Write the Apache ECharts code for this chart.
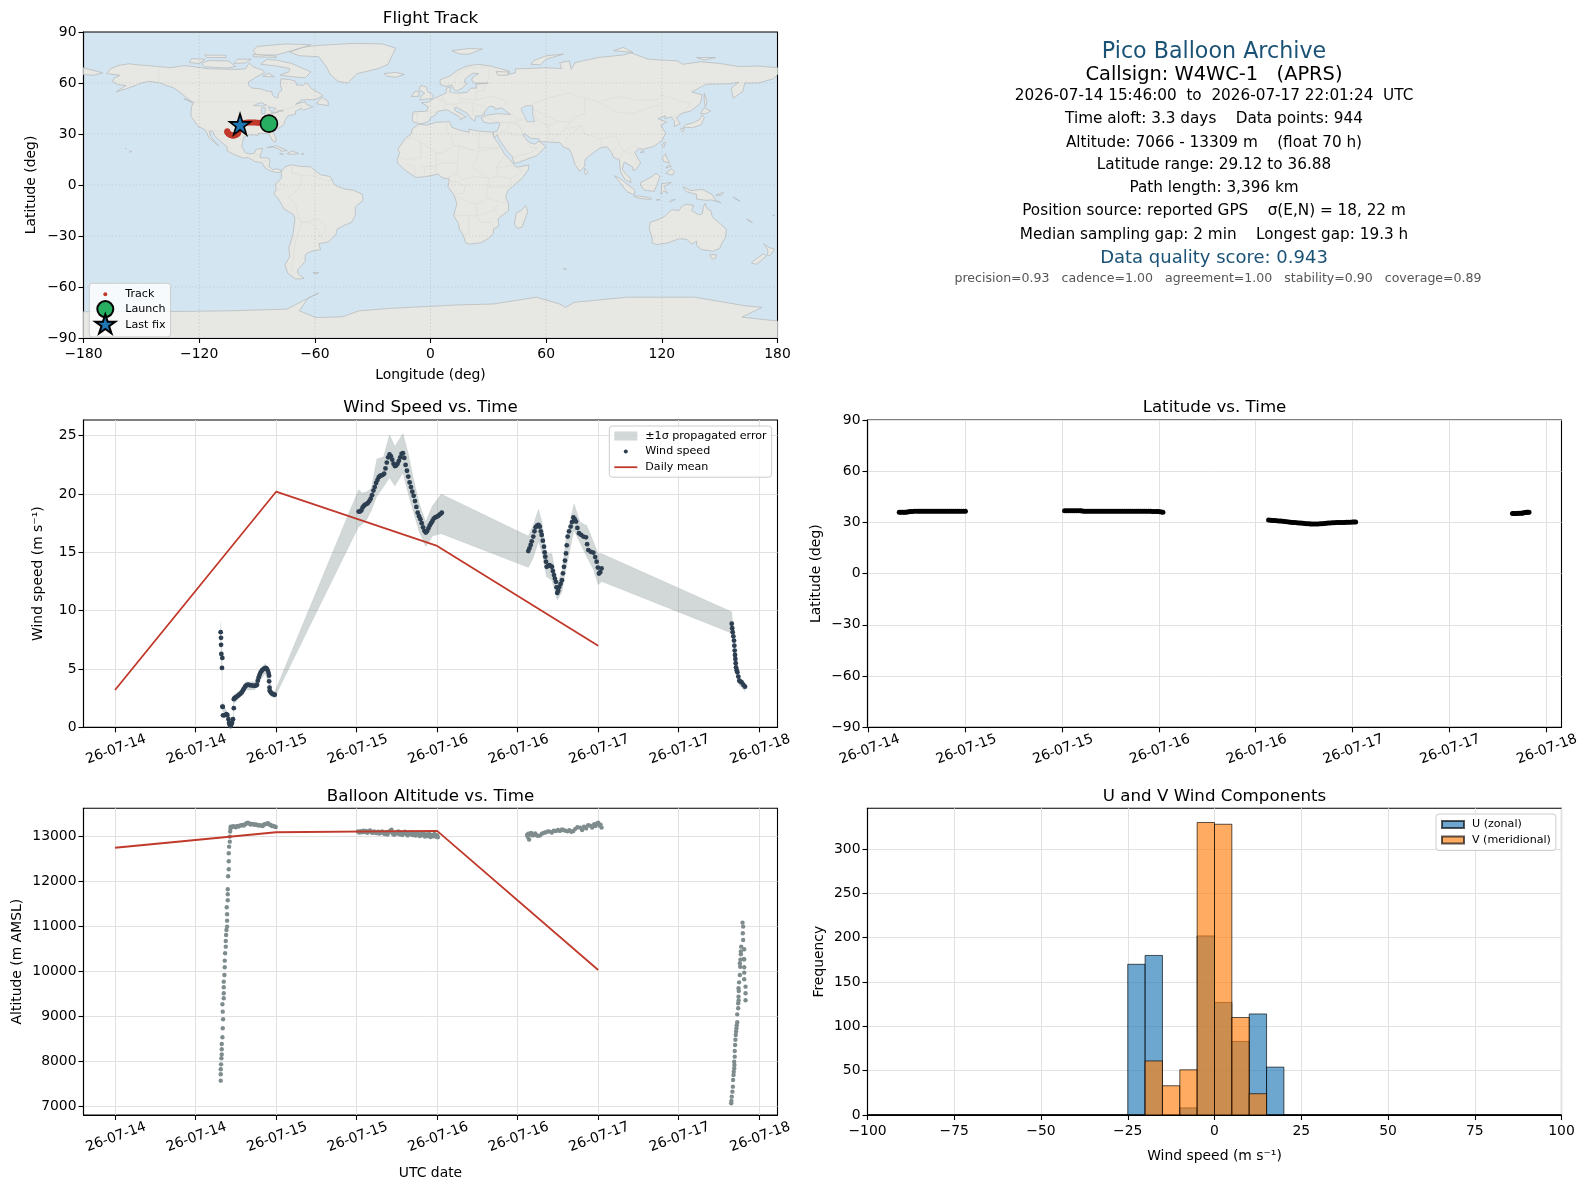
<!DOCTYPE html>
<html><head><meta charset="utf-8">
<style>html,body{margin:0;padding:0;background:#fff}#c{width:1587px;height:1189px}</style>
<script src="https://cdn.jsdelivr.net/npm/echarts@6/dist/echarts.min.js"></script>
</head><body><div id="c"></div>
<script>
// ---------- tick labels ----------
const hourTicksWide = [0,12,24,36,48,60,72,84,96];
const hourTicksLat = [12,24,36,48,60,72,84,96];
const hourTickLabels = {0:'26-07-14',12:'26-07-14',24:'26-07-15',36:'26-07-15',48:'26-07-16',60:'26-07-16',72:'26-07-17',84:'26-07-17',96:'26-07-18'};
const windTicks = [0,5,10,15,20,25];
const altTicks = [7000,8000,9000,10000,11000,12000,13000];
const histTicks = [0,50,100,150,200,250,300];
// ---------- wind speed: [hours since 26-07-14 00:00, m/s] ----------
const windPoints = [[15.74,8.16],[15.79,7.67],[15.8,7.07],[15.84,6.29],[15.94,5.09],[15.99,5.95],[16,1.78],[16.05,1.75],[16.09,1.03],[16.3,1.03],[16.6,1.12],[16.75,1.05],[16.9,0.69],[17,0.4],[17.08,0.26],[17.15,0.15],[17.23,0.11],[17.33,0.25],[17.43,0.4],[17.58,0.69],[17.7,1.64],[17.7,2.41],[17.8,2.5],[17.95,2.55],[18.08,2.61],[18.3,2.7],[18.5,2.79],[18.7,2.88],[18.88,2.99],[19.05,3.15],[19.17,3.28],[19.35,3.45],[19.47,3.56],[19.65,3.62],[19.82,3.65],[20.05,3.62],[20.3,3.59],[20.55,3.58],[20.8,3.56],[21,3.58],[21.16,3.65],[21.28,4],[21.41,4.28],[21.55,4.5],[21.7,4.71],[21.88,4.87],[22.06,4.97],[22.26,5.05],[22.46,5.09],[22.62,5],[22.76,4.86],[22.88,4.65],[22.96,4.43],[22.96,3.94],[23.02,3.4],[23.05,3.13],[23.2,3],[23.35,2.9],[23.6,2.83],[23.8,2.79],
[36.3,18.5],[36.5,18.5],[36.7,18.6],[36.9,18.85],[37.1,19],[37.3,19.1],[37.5,19.15],[37.7,19.25],[37.9,19.4],[38.1,19.6],[38.3,19.9],[38.5,20.3],[38.7,20.6],[38.9,20.95],[39.1,21.2],[39.3,21.45],[39.5,21.55],[39.7,21.6],[39.9,21.65],[40.1,21.75],[40.3,22.2],[40.5,22.7],[40.7,23.15],[40.9,23.4],[41.1,23.25],[41.3,22.95],[41.5,22.6],[41.7,22.4],[41.9,22.45],[42.1,22.6],[42.3,22.85],[42.5,23.15],[42.7,23.45],[42.9,23.5],[43.1,23.1],[43.3,22.5],[43.5,22],[43.7,21.5],[43.9,21],[44.1,20.6],[44.3,20.2],[44.5,19.85],[44.7,19.4],[44.9,18.9],[45.1,18.4],[45.3,18.1],[45.5,17.85],[45.7,17.5],[45.9,17.15],[46.1,16.85],[46.3,16.7],[46.5,16.8],[46.7,17.05],[46.9,17.3],[47.1,17.5],[47.3,17.7],[47.5,17.9],[47.7,18],[47.9,18.05],[48.1,18.1],[48.3,18.2],[48.5,18.3],[48.7,18.4],
[61.59,15.11],[61.75,15.35],[61.94,15.63],[62.1,15.95],[62.33,16.35],[62.5,16.8],[62.68,17.16],[62.9,17.3],[63.1,17.36],[63.3,17.2],[63.45,16.8],[63.58,16.49],[63.75,16],[63.92,15.49],[64.02,15],[64.12,14.63],[64.22,14.2],[64.32,13.76],[64.52,13.85],[64.72,13.91],[64.9,13.85],[65.1,13.76],[65.25,13.4],[65.41,13.05],[65.55,12.75],[65.7,12.47],[65.8,12],[65.9,11.52],[66.05,11.7],[66.2,12.04],[66.4,12.3],[66.6,12.61],[66.75,13.2],[66.9,13.76],[67.05,14.3],[67.2,14.91],[67.32,15.6],[67.45,16.35],[67.65,16.8],[67.9,17.21],[68.1,17.6],[68.3,17.99],[68.5,17.85],[68.7,17.64],[68.9,17.1],[69.14,16.64],[69.45,16.5],[69.79,16.35],[70.18,16.29],[70.35,15.7],[70.53,15.2],[70.9,15.05],[71.28,14.97],[71.55,14.6],[71.77,14.2],[71.95,13.7],[72.12,13.19],[72.3,13.3],[72.5,13.62],
[91.9,8.88],[91.97,8.5],[92.04,8.16],[92.14,7.8],[92.24,7.44],[92.29,7],[92.34,6.58],[92.39,6.2],[92.44,5.86],[92.49,5.5],[92.54,5.14],[92.64,4.9],[92.74,4.71],[92.88,4.35],[93.03,3.99],[93.2,3.92],[93.38,3.85],[93.63,3.65],[93.88,3.48]];
// ---------- propagated error band: hours, low, high ----------
const bandHours = [15.74,15.8,15.95,16,16.6,17.2,17.6,17.7,18.5,19.5,20.8,21.4,22.4,22.96,23.3,23.8,36.3,36.8,37.5,38.2,39,40,40.9,41.7,42.9,43.7,44.4,45.3,46.3,46.7,47.3,48.6,61.59,62.3,63.1,63.6,64.3,65.1,65.9,66.6,67.2,68.4,69.3,70.3,71.3,72,72.5,91.9,92.2,92.5,93,93.9];
const bandLow = [7.4,6.4,4.4,1.4,0.9,0,0.4,2,2.5,3.2,3.2,3.9,4.6,3.6,2.6,2.55,17.2,17.4,17.8,18.6,19.8,20.6,21.4,20.7,21.8,20,18.6,16.8,15.5,15.8,16.4,16.6,13.7,14.5,15.9,15,12.9,12.6,10.9,11.6,13.6,16.9,15.8,14.6,13.5,12.2,12.5,8.07,6.9,4.8,3.6,3.1];
const bandHigh = [9,7.7,5.8,2.2,1.4,0.4,1,2.8,3.1,3.9,3.9,4.7,5.5,4.6,3.2,3.05,20.4,20.1,20.2,20.5,23,23.2,25.1,24.1,25.2,23.5,21.5,19.3,17.6,18.2,19,20,16.4,17.3,18.7,17.7,14.9,14.9,12.3,13.4,16.2,19.2,17.6,17.3,15.9,14.9,14.9,9.9,7.9,5.5,4.4,3.7];
// ---------- daily means ----------
const dailyHours = [0,24,48,72];
const dailyWind = [3.2,20.2,15.55,7.0];
const dailyAltitude = [12745,13090,13120,10030];
// ---------- latitude: [hours, deg] ----------
const latPoints = [[15.8,35.9],[16,35.9],[16.2,35.9],[16.4,36],[16.6,36],[16.8,36.05],[17,36.2],[17.2,36.35],[17.4,36.45],[17.7,36.5],[18,36.5],[18.25,36.5],[18.5,36.5],[18.75,36.5],[19,36.5],[19.25,36.5],[19.5,36.5],[19.75,36.5],[20,36.5],[20.25,36.5],[20.5,36.5],[20.75,36.5],[21,36.5],[21.25,36.5],[21.5,36.5],[21.75,36.5],[22,36.5],[22.25,36.5],[22.5,36.5],[22.75,36.5],[23,36.5],[23.25,36.5],[23.5,36.5],[23.75,36.5],[24,36.5],
[36.3,36.88],[36.55,36.88],[36.8,36.88],[37.05,36.88],[37.3,36.85],[37.55,36.85],[37.8,36.85],[38.05,36.85],[38.3,36.8],[38.5,36.7],[38.7,36.6],[38.95,36.55],[39.2,36.5],[39.45,36.5],[39.7,36.5],[39.95,36.5],[40.2,36.5],[40.45,36.5],[40.7,36.5],[40.95,36.5],[41.2,36.5],[41.45,36.5],[41.7,36.5],[41.95,36.5],[42.2,36.5],[42.45,36.5],[42.7,36.5],[42.95,36.5],[43.2,36.5],[43.45,36.5],[43.7,36.5],[43.95,36.5],[44.2,36.5],[44.45,36.5],[44.7,36.5],[44.95,36.5],[45.2,36.5],[45.45,36.5],[45.7,36.5],[45.95,36.5],[46.2,36.5],[46.45,36.5],[46.7,36.5],[46.95,36.5],[47.2,36.45],[47.45,36.45],[47.7,36.45],[47.9,36.4],[48.1,36.3],[48.3,36.1],[48.5,35.9],
[61.6,31.4],[61.85,31.3],[62.1,31.2],[62.35,31.1],[62.6,31],[62.85,30.9],[63.1,30.8],[63.35,30.65],[63.6,30.5],[63.85,30.35],[64.1,30.2],[64.35,30.1],[64.6,30],[64.85,29.9],[65.1,29.8],[65.35,29.7],[65.6,29.6],[65.85,29.5],[66.1,29.4],[66.35,29.3],[66.6,29.2],[66.8,29.15],[67,29.12],[67.25,29.12],[67.5,29.12],[67.75,29.15],[68,29.2],[68.25,29.3],[68.5,29.4],[68.75,29.5],[69,29.6],[69.25,29.7],[69.5,29.8],[69.75,29.85],[70,29.9],[70.25,29.95],[70.5,30],[70.75,30],[71,30],[71.25,30.05],[71.5,30.1],[71.75,30.15],[72,30.2],[72.2,30.2],[72.4,30.2],
[91.85,35.3],[92.05,35.3],[92.2,35.3],[92.4,35.3],[92.6,35.35],[92.8,35.35],[93,35.4],[93.15,35.5],[93.3,35.6],[93.45,35.75],[93.6,35.9],[93.75,35.9],[93.9,35.95]];
// ---------- altitude: [hours, m] ----------
const altitudePoints = [[15.75,7570],[15.75,7711],[15.75,7822],[15.8,7933],[15.85,8067],[15.9,8155],[15.9,8267],[15.9,8385],[16,8533],[16.05,8733],[16.1,8933],[16.05,9104],[16,9267],[16.2,9400],[16.2,9511],[16.2,9644],[16.2,9770],[16.3,9918],[16.35,10089],[16.35,10237],[16.4,10400],[16.5,10548],[16.5,10674],[16.55,10807],[16.6,10918],[16.7,10993],[16.7,11126],[16.7,11267],[16.65,11422],[16.8,11578],[16.8,11711],[16.8,11822],[16.85,12111],[16.95,12267],[16.95,12444],[16.95,12622],[17,12770],[17.1,12881],[17.1,12993],[17.15,13104],[17.2,13170],[17.24,13215],
[17.4,13205],[17.6,13225],[17.8,13215],[18,13200],[18.2,13230],[18.4,13215],[18.6,13237],[18.8,13245],[19,13252],[19.2,13240],[19.4,13270],[19.6,13290],[19.8,13304],[20,13285],[20.2,13262],[20.4,13274],[20.6,13268],[20.8,13255],[21,13262],[21.2,13252],[21.4,13240],[21.6,13248],[21.8,13238],[22,13230],[22.2,13262],[22.4,13270],[22.6,13280],[22.8,13289],[23,13262],[23.2,13252],[23.4,13225],[23.6,13230],[23.8,13215],[23.95,13205],
[36.2,13105],[36.4,13085],[36.6,13115],[36.8,13090],[37,13125],[37.2,13095],[37.4,13120],[37.6,13080],[37.8,13110],[38,13130],[38.2,13090],[38.4,13075],[38.6,13105],[38.8,13085],[39,13070],[39.2,13100],[39.4,13060],[39.6,13090],[39.8,13105],[40,13065],[40.2,13050],[40.4,13095],[40.6,13040],[40.8,13085],[41,13125],[41.2,13145],[41.4,13055],[41.6,13035],[41.8,13085],[42,13060],[42.2,13105],[42.4,13045],[42.6,13090],[42.8,13030],[43,13070],[43.2,13100],[43.4,13050],[43.6,13020],[43.8,13080],[44,13045],[44.2,13090],[44.4,13025],[44.6,13060],[44.8,13015],[45,13080],[45.2,13035],[45.4,13005],[45.6,13065],[45.8,13020],[46,13060],[46.2,12995],[46.4,13040],[46.6,13005],[46.8,13055],[47,12985],[47.2,13030],[47.4,13000],[47.6,13050],[47.8,12995],[48,13025],[48.1,12980],
[61.4,13030],[61.5,12990],[61.6,13060],[61.7,12930],[61.8,13044],[62,13075],[62.2,13020],[62.4,13030],[62.6,13065],[62.8,13025],[63,13010],[63.3,13015],[63.6,13055],[63.9,13075],[64.2,13090],[64.5,13110],[64.8,13104],[65.1,13085],[65.4,13125],[65.7,13115],[66,13140],[66.3,13120],[66.6,13150],[66.8,13141],[67.1,13125],[67.4,13110],[67.7,13135],[68,13100],[68.3,13119],[68.6,13165],[68.9,13200],[69.3,13193],[69.6,13140],[69.9,13215],[70.2,13175],[70.5,13245],[70.8,13237],[71.1,13195],[71.4,13270],[71.6,13230],[71.8,13280],[72,13300],[72.2,13240],[72.35,13260],[72.5,13193],
[91.85,7118],[91.82,7066],[91.9,7215],[92,7326],[92.07,7437],[92.1,7585],[92.17,7696],[92.2,7770],[92.27,7993],[92.27,7844],[92.3,7920],[92.35,8104],[92.35,8230],[92.4,8363],[92.45,8480],[92.5,8585],[92.55,8660],[92.6,8733],[92.65,8800],[92.72,8867],[92.72,9044],[92.86,9178],[92.86,9289],[92.91,9437],[92.93,9350],[93,9755],[92.95,9560],[92.91,9622],[93.11,9918],[93.11,10178],[93.16,10100],[93.2,10260],[93.26,10378],[93.26,10440],[93.31,10548],[93.51,11081],[93.6,10993],[93.55,10844],[93.6,10696],[93.76,10489],[93.7,10267],[93.75,10267],[93.76,10089],[93.76,9970],[93.76,9822],[93.96,9659],[93.96,9511],[93.96,9356]];
// ---------- histogram ----------
const binLeft = [-100,-95,-90,-85,-80,-75,-70,-65,-60,-55,-50,-45,-40,-35,-30,-25,-20,-15,-10,-5,0,5,10,15,20,25,30,35,40,45,50,55,60,65,70,75,80,85,90,95];
const binWidth = 5;
const uCounts = [0,0,0,0,0,0,0,0,0,0,0,0,0,0,0,170,180,0,8,202,127,83,114,54,0,0,0,0,0,0,0,0,0,0,0,0,0,0,0,0];
const vCounts = [0,0,0,0,0,0,0,0,0,0,0,0,0,0,0,0,61,33,51,330,328,110,24,0,0,0,0,0,0,0,0,0,0,0,0,0,0,0,0,0];
// ---------- track ----------
const launchPoint = [-83.8,36.1];
const lastFixPoint = [-98.8,35.7];
const trackPoints = [[-83.8,36.1],[-84.8,36.3],[-85.8,36.4],[-86.8,36.5],[-87.8,36.5],[-88.8,36.6],[-89.8,36.6],[-90.8,36.7],[-91.8,36.8],[-92.8,36.8],[-93.8,36.8],[-94.8,36.7],[-95.8,36.6],[-96.8,36.5],[-97.8,36.4],[-98.8,36.2],[-99.6,36],[-99.7,31],[-99.9,30.3],[-100.4,29.8],[-100.9,29.5],[-101.4,29.3],[-101.9,29.15],[-102.4,29.12],[-102.9,29.15],[-103.4,29.3],[-103.9,29.5],[-104.4,29.9],[-104.8,30.3],[-105.2,30.7],[-105.4,31.2],[-105.4,31.6]];
// ---------- map outlines [lon,lat] ----------
const landNorthAmerica = [[-168,65.6],[-166,68.3],[-162,70.3],[-156.5,71.3],[-150,70.5],[-141,69.7],[-135,69],[-128,70.2],[-124,69.8],[-115,68.3],[-108,68.2],[-101,68],[-96,68.3],[-94,71.8],[-92,69.6],[-87,67.5],[-86,66.2],[-90,63.8],[-94.5,60.5],[-94.5,58.8],[-92.5,57],[-88,56.5],[-85,55.3],[-82.3,55],[-82,52.9],[-80,51.3],[-79,51.5],[-79,54],[-77,56],[-78,58.8],[-77.5,62.5],[-73,62],[-70,61],[-69.5,58.8],[-66,58.7],[-64.5,60.3],[-61.5,56.5],[-57.5,54],[-55.8,52.5],[-60,50.2],[-66.5,50.2],[-70,47.5],[-65,49],[-64.5,47.5],[-61,46],[-66,44],[-67,45],[-70,43.5],[-70,41.7],[-74,40.6],[-75.5,38],[-76,35.5],[-78,33.9],[-81,32],[-81.3,30],[-80,27],[-80.3,25.2],[-81.8,26],[-82.8,28],[-84,30],[-86,30.4],[-89.5,30.3],[-89.5,29],[-91.5,29.5],[-94,29.5],[-97,28],[-97.5,25],[-97.8,22.5],[-96,19],[-94,18.2],[-91.5,18.7],[-90.5,21],[-87,21.5],[-88,18.5],[-88.5,16],[-84,15.9],[-83.3,14.5],[-83.7,11],[-82,9],[-79.5,9.5],[-77.3,8.7],[-78,7.5],[-80,7.3],[-83,8.2],[-85.8,10],[-87.5,13],[-91.5,14],[-94.5,16.2],[-97,15.8],[-102,18],[-105.5,20],[-105.5,22.5],[-108.5,25.2],[-112,29],[-113,31.3],[-114.8,31.7],[-114,28.5],[-111,24.5],[-110,23],[-112,25],[-115,28],[-116,30.5],[-117.2,32.6],[-120.5,34.5],[-122.5,37.7],[-124.3,40.3],[-124,46],[-122.8,48.5],[-125,50],[-130,54.5],[-133,57],[-137,58.5],[-140,60],[-146,61],[-150,60],[-152,59],[-158,56.5],[-163,54.8],[-158,58.5],[-162,59],[-165,61],[-164,63],[-161,64.5]];
const landGreenland = [[-73,78.2],[-66,81],[-60,82],[-40,83.3],[-25,83],[-18,80.5],[-20,76],[-22,71],[-27,68.5],[-38,65.5],[-43,60],[-48,61],[-52,65],[-54,69.5],[-58,75.5],[-68,76]];
const landSouthAmerica = [[-77,8.5],[-75.5,10.7],[-72,12],[-68,11],[-62,10.7],[-60,8.5],[-57,6],[-52,5],[-50,0.5],[-48,-1],[-44,-2.5],[-40,-3],[-35.3,-5.5],[-35,-9],[-39,-13],[-39,-18],[-41,-22],[-45,-23.8],[-48.5,-26],[-49,-29],[-53,-33.5],[-58,-34.5],[-57,-38],[-62,-39],[-65,-41],[-65,-45],[-69,-50],[-68.5,-52.5],[-65.5,-55],[-70,-55.3],[-74,-52],[-75.5,-47],[-73,-42],[-73.5,-37],[-71.5,-30],[-70.3,-20],[-71,-17.5],[-76,-14],[-79,-8],[-81.3,-5],[-80,-2.5],[-80.5,0.5],[-78.5,2.5],[-77.3,4],[-77.5,7]];
const landAfrica = [[-6,35.8],[-2,35.2],[3,36.9],[10,37.3],[11,34],[15,32.3],[20,31],[20,32.8],[25,31.7],[32,31.2],[32.5,30],[33,28],[35.5,24],[37,21],[38.5,18],[41,15],[43.2,12],[45,10.5],[51,11.8],[50.8,9],[47.5,4],[43,-0.5],[40,-3.5],[39,-7],[40.5,-11],[40.5,-15],[36.5,-18.5],[35,-20],[35.5,-24],[32.8,-26],[32.5,-28.7],[30,-31.5],[26,-34],[20,-34.8],[18.3,-34],[17,-29.5],[15,-26],[14.5,-22.5],[12,-18],[13.7,-11],[12.2,-6],[9,-1],[9.8,3.5],[6,4.3],[4,6.4],[-2,5],[-7.5,4.4],[-13,8.5],[-16.8,12.5],[-17.3,14.7],[-16,19],[-17,21],[-13,27.5],[-10,30],[-9.5,33]];
const landEurasia = [[-9,37],[-9.5,38.7],[-9,43],[-2,43.4],[-1.2,46],[-4.7,48.4],[-1.5,48.7],[2,51],[4,52],[8,54],[8.3,57],[10.5,57.7],[10,54.5],[14,54],[19,54.5],[21,57],[24,57],[23.5,59.3],[30,60],[23,60],[21.5,61],[21.5,63],[25,65.5],[22,65.8],[18,62.5],[17.5,60.5],[19,59.8],[16.5,57],[14,55.5],[12.8,55.5],[11,58.8],[8,58],[5,59],[5,62],[10,64],[14,67.5],[19,70],[25,71],[31,70],[41,67],[40,64.7],[35,64.5],[34,66.7],[41,66.5],[40,65],[44,66],[44,68.3],[54,68.7],[60,69],[68,68.5],[67,72],[72,73],[73,68],[75,72],[81,73.5],[87,75],[100,76.5],[104,77.7],[113,74],[128,73],[131,71],[140,72.5],[150,71.5],[160,69.7],[170,70],[180,69],[180,65],[178,62.5],[170,60],[163,60],[162,55],[157,51],[156,57],[160,60.5],[155,59.5],[143,59.3],[135.5,54.7],[141,53],[140,48],[135,43.5],[130.7,42.3],[127.5,39.5],[129.5,36],[126.5,34.5],[126.5,37.5],[125,40],[121.5,39],[122,40.7],[118,39],[122.5,37],[119.5,35],[122,30.5],[120,26],[116,22.8],[110.5,21],[108,21.5],[106,19],[109,13],[106.5,9],[105,8.7],[105,10.5],[100.5,13.5],[99.5,9],[103.5,4],[104,1.4],[101,3],[98.5,8],[98,15],[95,16],[94,19],[91.5,22.5],[88,21.7],[85,19.5],[80.2,15],[80,11],[77.5,8],[75,12],[73,19],[72,21],[69,22.3],[67,25],[61.5,25.2],[57,25.5],[56.4,27],[52,27.5],[48.8,30.2],[48,29.5],[50,26.5],[51.5,25],[54,24],[56.3,25.8],[59.8,22.5],[55.5,17.5],[52,16],[45,13],[43.2,13],[42.5,16.5],[39,21],[35,28],[34.8,29.5],[33,28],[32.5,30],[32.5,31.2],[34.3,31.4],[35.8,35],[36,36.8],[30.5,36.3],[27.5,37],[26.3,39.5],[29,41],[35,42],[41.5,41.5],[38,44.5],[37,45.4],[33.5,44.5],[33,46],[30.5,46.3],[28,43],[28,41.5],[26,40.7],[23.5,40.5],[23,37.5],[20.5,39.5],[19.3,42],[14,45.5],[12.3,45.3],[13,43.5],[16,41.8],[18.5,40],[16.5,39.5],[16,38],[15,40.2],[10.5,43],[8.5,44.3],[3.5,43.3],[3,41.5],[0,39.5],[-0.7,37.7],[-2,36.8],[-5.5,36]];
const landChukotka = [[-180,69],[-170,66],[-175,64.5],[-180,65]];
const landAustralia = [[114,-22],[113.5,-26],[115,-31],[115,-34.3],[118,-35],[123.5,-33.9],[129,-31.6],[133,-32],[135.5,-34.8],[138,-33],[138,-35.5],[140.5,-38],[144,-38.5],[146.5,-39],[150,-37.3],[151.5,-33.5],[153,-31],[153.5,-26],[150.5,-23],[146.3,-19],[145.3,-15],[143.5,-14],[142.5,-10.8],[141.5,-13],[141,-17],[139,-17.5],[135.5,-15],[136.5,-12],[132.5,-11.3],[130,-13],[129,-15],[125,-14.5],[122,-18],[119,-20]];
const landAntarctica = [[-180,-90],[-180,-74.5],[-140,-74.5],[-104,-74],[-74.5,-73],[-71,-71],[-66,-68],[-58,-63.5],[-63.5,-66.5],[-68,-74],[-59.5,-78],[-45.7,-77.5],[-37,-74],[-20,-72.5],[15,-70.5],[32.6,-70],[55,-66],[67,-70],[70,-72],[74.6,-69],[102,-66],[137,-66],[163,-71],[172,-72],[161.5,-77.7],[180,-80],[180,-90]];
const landIslands = [
[[-80,73.5],[-72,71.5],[-67,69],[-62,66.5],[-65,63],[-72,63.7],[-78,64.7],[-73.5,66.5],[-73,68.5],[-80,70],[-88,71],[-85,73.8]],
[[-117,69.5],[-105,68.8],[-101,69.8],[-105,73],[-115,73.2],[-119,71.5]],
[[-125,72],[-120,71.5],[-117,74],[-124,74.3]],
[[-90,76.5],[-80,76.5],[-72,79],[-62,82.5],[-75,83],[-90,81.5],[-92,79]],
[[-92,75.5],[-80,75],[-80,75.8],[-92,76.8]],
[[-116,75],[-106,75],[-106,76.3],[-117,76.4]],
[[-102,71.5],[-96,71.8],[-93,74],[-100,74]],
[[-87,64],[-81,63.5],[-84,65.8]],
[[-59,47.7],[-53,46.7],[-53,49],[-56,51.5],[-58,50]],
[[-128,50.8],[-123.5,48.4],[-125,49.6]],
[[-84.9,21.9],[-80,23.1],[-74.3,20.2],[-77.7,19.9],[-78,20.8],[-82,22.5]],
[[-74.4,18.4],[-72,20],[-68.4,18.6],[-71,18]],
[[-78.3,18.3],[-76.3,18.1],[-77,18.5]],
[[-67.2,18],[-65.6,18.2],[-66.5,18.5]],
[[-156,19.2],[-155,19.7],[-155.8,20.2]],
[[-158.2,21.3],[-157.7,21.3],[-158,21.7]],
[[-5.5,50],[1,51],[1.5,52.8],[-1.5,55],[-2,57.5],[-5,58.6],[-6,56],[-3,54],[-5,52]],
[[-10,52],[-6,52.2],[-6,55],[-8,55.2]],
[[-24,65.5],[-18,66.3],[-13.5,65],[-18,63.4],[-22.5,64]],
[[11,79],[20,80.3],[27,80],[20,77],[15,77]],
[[52,71],[57,70.7],[60,74],[69,77],[60,76],[54,73.5]],
[[95,79],[105,78],[100,81]],
[[138,75],[148,75],[142,73.5]],
[[142,54],[143.5,49],[142.5,46],[142,50]],
[[131,34],[136,33.7],[140.5,35.5],[142,39.5],[141,41.3],[139.5,38.5],[136,36.5],[132.5,35.5]],
[[140,42],[143,42],[145.3,43.5],[142,45.5]],
[[130,33.5],[131.7,33],[131,31.2],[130,32]],
[[120.2,23],[121,22],[122,25],[121,25]],
[[108.7,19],[111,19.5],[110,20.2]],
[[79.8,8],[80,9.7],[81.8,7.5],[80.5,6]],
[[120.3,16],[122,18.5],[122.3,16.5],[124,13],[121,13.8]],
[[122,7],[125.5,5.7],[126.5,8],[125,9.5]],
[[122,10],[125,11],[124,12]],
[[109,1.5],[111.5,2.8],[115,5],[117,7],[119,5],[117.8,1],[116,-3.8],[111,-3],[109.2,-0.5]],
[[95.3,5.5],[98,4],[103.7,-1],[106,-3],[105.8,-5.8],[102,-4],[98.5,1]],
[[105.3,-6.5],[108.5,-6.5],[114.5,-7.7],[114.3,-8.7],[108,-7.8]],
[[119.5,-5.5],[120,0.8],[125,1.5],[121,-1],[123,-5],[121,-3.5]],
[[131,-1],[135,-3.3],[141,-2.6],[146,-5.5],[148,-9],[150.7,-10.5],[146,-8.8],[143,-9],[138,-8.3],[138,-5.5],[133,-4],[132,-2.8]],
[[124,-10],[127,-8.5],[125,-8.9]],
[[117,-8.8],[119,-8.4],[119,-8.9]],
[[148,-6],[152,-4.3],[151,-6]],
[[157,-7],[160.5,-9.5],[158,-8]],
[[164,-20],[167,-22],[165.5,-21.5]],
[[177.5,-18],[178.5,-17.5],[178,-18.2]],
[[144.8,-41],[148.3,-41],[147.8,-43.3],[146,-43.5]],
[[172.8,-34.5],[175.5,-36.7],[178.5,-37.7],[176,-41.5],[174.8,-41.3],[175,-39],[174.7,-37.5]],
[[172.7,-40.5],[174.2,-41.7],[171,-45],[169,-46.6],[166.5,-46],[168,-44.2]],
[[49.3,-12],[50.5,-15.5],[47.5,-24.8],[45,-25.5],[43.5,-23],[44.5,-16.2],[47,-15.2]],
[[69,-49],[70.5,-49.5],[69.5,-49.8]],
[[-61,-51.5],[-58,-51.5],[-59,-52.3]]
];
const inlandWater = [
[[47,45],[50,46.8],[53,46.5],[53,42],[54,37.2],[50,37.3],[49,40],[47.5,43]],
[[-92,46.7],[-88,48.5],[-85,47],[-87,46.5]],
[[-87.8,42],[-86,42],[-85.5,45.5],[-87.5,45.5]],
[[-84,46],[-80,45],[-82,43],[-83.5,44]],
[[-83,41.7],[-79,42.8],[-79.5,43],[-83,42.3]],
[[-79.5,43.3],[-76.3,43.5],[-76.5,44],[-79,43.8]]
];
const countryBorders = [
[[-141,69.7],[-141,60]],[[-123,49],[-95,49],[-88,48.3],[-83,46],[-82.5,42.5],[-79,43],[-75,45],[-70,46],[-67,47],[-67,45]],
[[-117,32.5],[-108,31.5],[-106,31.7],[-101,29.5],[-97.5,26]],[[-92,14.5],[-91,17.8],[-89,17.8],[-88.5,16]],[[-87.5,13],[-84,15]],[[-83.7,11],[-85.8,11]],
[[-72,12],[-72,7],[-67,6],[-67,1],[-70,-4],[-74,-7],[-70,-11],[-69,-16],[-67,-22],[-58,-20],[-55,-24],[-54,-26],[-57.5,-30],[-53,-33.5]],
[[-67,6],[-60,5],[-60,8.5]],[[-60,5],[-52,2],[-52,5]],[[-80,-3.5],[-75,-1],[-78.5,1.5]],[[-70.5,-18],[-67,-22],[-70,-33],[-72,-50],[-68.5,-52.5]],[[-67,-22],[-62,-22],[-58,-27],[-57.5,-30]],
[[-9,42],[-7,42],[-7,37]],[[-2,43.4],[3,42.5]],[[2,51],[8,49],[7.5,47.5],[7,44]],[[6,52],[7,49]],[[8,54.9],[14,54]],[[14,54],[15,51],[24,50],[23,54.3]],[[15,51],[17,48.7],[13,47.5],[7.5,47.5]],[[17,48.7],[22.5,48.2],[28,45.5],[29.5,45.2]],[[24,50],[30,52],[32,52],[40,49.5],[38,47]],[[23,54.3],[28,56],[28,60]],[[13,47.5],[14,45.5]],[[22,48],[22,41],[20,40]],[[28,42],[22,44]],
[[31,70],[30,62],[28,60]],[[14,65],[19,69],[25,69],[29,69.5]],[[12.5,60],[13,64],[14,65]],
[[26,40.7],[36,36.8],[44,37],[44.5,39.5],[41.5,41.5]],[[36,36.8],[42,37],[39,32],[35,29.5]],[[42,37],[46,35],[48,30]],[[44.5,39.5],[48,38.5],[44,37],[46,35],[48,30]],
[[48,29],[45,29],[37,32]],[[48,29],[52,22],[55.5,22],[52,19]],[[52,19],[45,17],[43,16.5]],[[61,25],[61.5,30],[61,35],[66,37.5],[73,37]],[[61.5,30],[66,29.5],[70,33],[73,37]],[[66,29.5],[62,25.2]],[[70,33],[74,34],[78,35]],[[70,25],[71,28],[74,31],[78,35]],[[78,35],[80,30],[88,27],[96,29],[98,24],[100,20],[105,23],[108,21.5]],[[88,27],[89,22]],[[94,19],[98,24]],[[98,15],[100,20],[105,18],[107,15],[106,11]],[[100,6],[102,6]],
[[50,46],[58,42],[66,37.5]],[[54,42],[56,37.5],[61,35]],[[50,46],[60,51],[72,54],[80,51],[87,49]],[[80,51],[80,42],[74,39.5],[73,37]],[[87,49],[98,52],[107,50],[117,50],[120,53],[128,50],[135,48],[131,43]],[[87,49],[96,43],[105,42],[112,45],[119,47],[117,50]],[[124.5,40],[130.5,42.5]],[[126.5,38],[128.5,38.5]],
[[25,31.7],[25,20],[37,22]],[[25,22],[36,22]],[[25,20],[24,15],[22,12],[23,9],[30,4],[35,5],[34,10],[37,15],[38.5,18]],[[34,10],[43,11.5]],[[35,5],[42,4],[47.5,8],[43.5,11]],[[41,-1],[42,4]],[[34,-1],[41,-1]],[[34,-1],[30,-1],[29,-5],[30,-8],[40,-11]],[[30,4],[30,-1]],[[12.2,-6],[22,-11],[24,-11],[30,-8]],[[24,-11],[24,-18],[12,-18]],[[24,-18],[30,-16],[33,-15],[36.5,-18.5]],[[33,-15],[35,-11]],[[20,-18],[20,-28.5],[17,-29]],[[24,-18],[26,-22],[32,-22],[32.8,-26]],
[[9,37],[8,33],[10,30],[12,23],[15,23],[24,20]],[[12,23],[6,19],[3,19],[-5,25],[-8.7,27.5],[-13,27.5]],[[-5,25],[-5,16],[-12,15],[-16,16]],[[3,19],[3,12],[8,13],[14,13],[15,23]],[[14,13],[14,7],[9,4.5]],[[14,7],[16,3],[18,3.5],[23,5],[30,4]],[[3,12],[3,6.5]],[[-5,11],[3,11]],[[-8,4.5],[-8,11],[-13,12.5]],[[-3,5],[-3,11]],[[15,23],[23,20]],[[9,2],[14,2],[18,-1],[17,-5],[12,-5]]
];
const mapLonTicks = [-120,-60,0,60,120];
const mapLatTicks = [-60,-30,0,30,60];

// ---------- styles ----------
const FONT = '"DejaVu Sans"';
const RED = '#c0392b', NAVY = '#2c3e50', GREY = '#7f8c8d', TITLEBLUE = '#1a5276';
const grids = [
  {left:83.5,top:32,width:694,height:306},
  {left:83.5,top:420,width:694,height:307.3},
  {left:867.5,top:420,width:694,height:307.3},
  {left:83.5,top:808.3,width:694,height:306.7},
  {left:867.5,top:808.3,width:694,height:306.7}
].map(g=>Object.assign({show:true,borderColor:'#000',borderWidth:1.1,backgroundColor:'transparent'},g));
grids[0].backgroundColor = '#d4e5f2';

const minus = v => String(v).replace('-','\u2212');
const gridLine = {show:true,lineStyle:{color:'#e1e1e1',width:1}};
const tick = {show:true,length:5,lineStyle:{color:'#000',width:1.1}};
const axLine = {show:true,onZero:false,lineStyle:{color:'#000',width:1.1}};
const lab = {color:'#000',fontFamily:FONT,fontSize:13.9,margin:7,hideOverlap:false};
const yLab = Object.assign({},lab,{padding:[2.5,0,0,0]});
const xLab = Object.assign({},lab,{margin:9});
const nameSt = {color:'#000',fontFamily:FONT,fontSize:13.9};
function valueAxis(i,min,max,base,extra){
  return Object.assign({type:'value',gridIndex:i,min,max,axisLine:axLine,axisTick:tick,splitLine:gridLine,
    axisLabel:Object.assign({},base,{formatter:minus}),nameLocation:'middle',nameTextStyle:nameSt},extra||{});
}
function customTicks(vals,fmt,base,labelExtra){
  return {axisTick:Object.assign({},tick,{customValues:vals}),
          axisLabel:Object.assign({},base,{customValues:vals,formatter:fmt||minus},labelExtra||{})};
}
function timeAxis(i,min,max,ticks,extra){
  return valueAxis(i,min,max,lab,Object.assign(customTicks(ticks,v=>hourTickLabels[v],lab,{rotate:20,align:'center',verticalAlign:'top',margin:15,padding:[0,3,0,0]}),extra||{}));
}
const xAxes = [
  valueAxis(0,-180,180,xLab,{interval:60,splitLine:{show:false},name:'Longitude (deg)',nameGap:30}),
  timeAxis(1,-4.7,98.72,hourTicksWide),
  timeAxis(2,11.86,97.93,hourTicksLat),
  timeAxis(3,-4.7,98.72,hourTicksWide,{name:'UTC date',nameGap:51}),
  valueAxis(4,-100,100,xLab,{interval:25,name:'Wind speed (m s\u207B\u00B9)',nameGap:34})
];
const yAxes = [
  valueAxis(0,-90,90,yLab,{interval:30,splitLine:{show:false},name:'Latitude (deg)',nameGap:45}),
  valueAxis(1,0,26.35,yLab,Object.assign(customTicks(windTicks,minus,yLab),{name:'Wind speed (m s\u207B\u00B9)',nameGap:38})),
  valueAxis(2,-90,90,yLab,{interval:30,name:'Latitude (deg)',nameGap:44.5}),
  valueAxis(3,6807,13622,yLab,Object.assign(customTicks(altTicks,minus,yLab),{name:'Altitude (m AMSL)',nameGap:59})),
  valueAxis(4,0,346,yLab,Object.assign(customTicks(histTicks,minus,yLab),{name:'Frequency',nameGap:41}))
];

function polyRender(list,fill,stroke,lw){
  return function(params,api){
    const pts = list[params.dataIndex].map(p=>api.coord(p));
    return {type:'polygon',shape:{points:pts},style:{fill,stroke,lineWidth:lw}};
  };
}
const landAll = [landAntarctica,landNorthAmerica,landGreenland,landSouthAmerica,landAfrica,landEurasia,landChukotka,landAustralia].concat(landIslands);
const bandPoly = [bandHours.map((h,i)=>[h,bandHigh[i]]).concat(bandHours.map((h,i)=>[h,bandLow[i]]).reverse())];
const noPick = {animation:false,silent:true};
function polySeries(name,list,xi,fill,stroke,lw,z){
  return Object.assign({type:'custom',name,xAxisIndex:xi,yAxisIndex:xi,coordinateSystem:'cartesian2d',clip:true,z:z||2,
    data:list.map((_,i)=>[i]),encode:{x:[],y:[]},itemStyle:{color:fill},renderItem:polyRender(list,fill,stroke,lw)},noPick);
}
function lineSeries(list,color,lw,dash,z){
  return Object.assign({type:'custom',xAxisIndex:0,yAxisIndex:0,coordinateSystem:'cartesian2d',clip:true,z,
    data:list.map((_,i)=>[i]),encode:{x:[],y:[]},
    renderItem:function(params,api){
      return {type:'polyline',shape:{points:list[params.dataIndex].map(p=>api.coord(p))},style:{fill:'none',stroke:color,lineWidth:lw,lineDash:dash||null}};
    }},noPick);
}
function scatter(name,xi,data,size,color,extra){
  return Object.assign({type:'scatter',name,xAxisIndex:xi,yAxisIndex:xi,data,symbolSize:size,itemStyle:{color,opacity:1}},noPick,extra||{});
}
function meanLine(name,xi,data){
  return Object.assign({type:'line',name,xAxisIndex:xi,yAxisIndex:xi,data,symbol:'none',color:RED,itemStyle:{color:RED},lineStyle:{color:RED,width:1.8}},noPick);
}
function histSeries(name,counts,fill,z){
  return Object.assign({type:'custom',name,xAxisIndex:4,yAxisIndex:4,coordinateSystem:'cartesian2d',clip:false,z,
    data:binLeft.map((b,i)=>[b,b+binWidth,counts[i]]),encode:{x:[0,1],y:2},
    itemStyle:{color:fill,borderColor:'rgba(0,0,0,0.65)',borderWidth:1},
    renderItem:function(params,api){
      const a=api.coord([api.value(0),api.value(2)]),b=api.coord([api.value(1),0]);
      return {type:'rect',shape:{x:a[0],y:a[1],width:b[0]-a[0],height:b[1]-a[1]},style:{fill,stroke:'rgba(0,0,0,0.65)',lineWidth:1}};
    }},noPick);
}
const starPoints = (function(){const o=[];for(let i=0;i<10;i++){const r=i%2?0.382:1,t=-Math.PI/2+i*Math.PI/5;o.push([(r*Math.cos(t)*10).toFixed(3),(r*Math.sin(t)*10).toFixed(3)]);}return o;})();
const starPath = 'M'+starPoints.map(p=>p.join(' ')).join('L')+'Z';
function dotIcon(w,h,r){return `path://M0 0L0 0M${w} ${h}L${w} ${h}M${w/2-r} ${h/2}a${r} ${r} 0 1 0 ${2*r} 0a${r} ${r} 0 1 0 ${-2*r} 0Z`;}
function starIcon(w,h,r){
  const pts=starPoints.map(p=>[(w/2+p[0]*r/10).toFixed(2),(h/2+p[1]*r/10).toFixed(2)]);
  return `path://M0 0L0 0M${w} ${h}L${w} ${h}M`+pts.map(p=>p.join(' ')).join('L')+'Z';
}
const lineIcon = (w,h,t)=>`path://M0 0L0 0M${w} ${h}L${w} ${h}M0 ${h/2-t/2}L${w} ${h/2-t/2}L${w} ${h/2+t/2}L0 ${h/2+t/2}Z`;

const series = [
  polySeries('Land',landAll,0,'#e7e7e3','#b9bcbd',0.8,1),
  lineSeries(countryBorders,'#dcdcd8',0.7,null,1),
  polySeries('Inland water',inlandWater,0,'#d4e5f2','#b9bcbd',0.7,1),
  lineSeries(mapLonTicks.map(v=>[[v,-90],[v,90]]).concat(mapLatTicks.map(v=>[[-180,v],[180,v]])),'rgba(120,120,120,0.25)',0.8,[1.5,2],1),
  scatter('Track',0,trackPoints,6,RED),
  scatter('Launch',0,[launchPoint],17,'#27ae60',{itemStyle:{color:'#27ae60',borderColor:'#000',borderWidth:1.6,opacity:1}}),
  scatter('Last fix',0,[lastFixPoint],21,'#1f77b4',{symbol:'path://'+starPath,itemStyle:{color:'#1f77b4',borderColor:'#000',borderWidth:1.6,opacity:1}}),
  polySeries('\u00B11\u03C3 propagated error',bandPoly,1,'rgba(127,140,141,0.35)','rgba(127,140,141,0.2)',0.5),
  scatter('Wind speed',1,windPoints,4.8,NAVY),
  meanLine('Daily mean',1,dailyHours.map((h,i)=>[h,dailyWind[i]])),
  scatter('Latitude',2,latPoints,5,'#000'),
  scatter('Altitude',3,altitudePoints,4.4,GREY),
  meanLine('Altitude daily mean',3,dailyHours.map((h,i)=>[h,dailyAltitude[i]])),
  histSeries('U (zonal)',uCounts,'rgba(31,119,180,0.65)',2),
  histSeries('V (meridional)',vCounts,'rgba(255,127,14,0.65)',3)
];
const legendBase = {orient:'vertical',selectedMode:false,backgroundColor:'rgba(255,255,255,0.8)',borderColor:'#cccccc',borderWidth:1,borderRadius:3,
  textStyle:{color:'#000',fontFamily:FONT,fontSize:11.1}};
const legends = [
  Object.assign({},legendBase,{left:89.3,top:283.3,itemWidth:30,itemHeight:22,itemGap:-8.2,padding:[0,5,0,0],
    data:[{name:'Track',icon:dotIcon(30,22,2)},{name:'Launch',icon:dotIcon(30,22,8)},{name:'Last fix',icon:starIcon(30,22,10.5)}]}),
  Object.assign({},legendBase,{left:609.3,top:426,itemWidth:23,itemHeight:11,itemGap:4.6,padding:[4.5,5,4.5,5],textStyle:Object.assign({},legendBase.textStyle,{padding:[0,0,0,3]}),
    data:[{name:'\u00B11\u03C3 propagated error',icon:lineIcon(23,11,9)},{name:'Wind speed',icon:dotIcon(23,11,2)},{name:'Daily mean',icon:lineIcon(23,11,1.8)}]}),
  Object.assign({},legendBase,{left:1436,top:814,itemWidth:22,itemHeight:7,itemGap:4.5,padding:[5,5,5,5],textStyle:Object.assign({},legendBase.textStyle,{padding:[0,0,0,3]}),
    data:[{name:'U (zonal)',icon:'rect'},{name:'V (meridional)',icon:'rect'}]})
];
function plotTitle(text,x,y){
  return {text,left:x,top:y,textAlign:'center',padding:0,textStyle:{color:'#000',fontFamily:FONT,fontSize:16.67,fontWeight:'normal'}};
}
const titles = [plotTitle('Flight Track',430.5,10.5),plotTitle('Wind Speed vs. Time',430.5,399),plotTitle('Latitude vs. Time',1214.5,399),plotTitle('Balloon Altitude vs. Time',430.5,788),plotTitle('U and V Wind Components',1214.5,788)];
const infoLines = [
  ['Pico Balloon Archive',52.6,22.2,TITLEBLUE,1214],
  ['Callsign: W4WC-1   (APRS)',74.9,19.4,'#000',1214],
  ['2026-07-14 15:46:00  to  2026-07-17 22:01:24  UTC',96.1,15.25,'#000',1214],
  ['Time aloft: 3.3 days    Data points: 944',119.4,15.25,'#000',1214],
  ['Altitude: 7066 - 13309 m    (float 70 h)',142.7,15.25,'#000',1214],
  ['Latitude range: 29.12 to 36.88',164.9,15.25,'#000',1214],
  ['Path length: 3,396 km',188.2,15.25,'#000',1214],
  ['Position source: reported GPS    \u03C3(E,N) = 18, 22 m',211.5,15.25,'#000',1214],
  ['Median sampling gap: 2 min    Longest gap: 19.3 h',234.8,15.25,'#000',1214],
  ['Data quality score: 0.943',258,18,TITLEBLUE,1214],
  ['precision=0.93   cadence=1.00   agreement=1.00   stability=0.90   coverage=0.89',278.3,12.57,'#555555',1218]
];
const graphics = infoLines.map(l=>({type:'text',x:l[4],y:l[1],silent:true,style:{text:l[0],fill:l[3],font:`${l[2]}px ${FONT}`,textAlign:'center',textVerticalAlign:'middle'}}));

const chart = echarts.init(document.getElementById('c'),null,{renderer:'canvas'});
chart.setOption({animation:false,backgroundColor:'#fff',textStyle:{fontFamily:FONT},title:titles,legend:legends,grid:grids,xAxis:xAxes,yAxis:yAxes,series,graphic:graphics});
</script></body></html>
